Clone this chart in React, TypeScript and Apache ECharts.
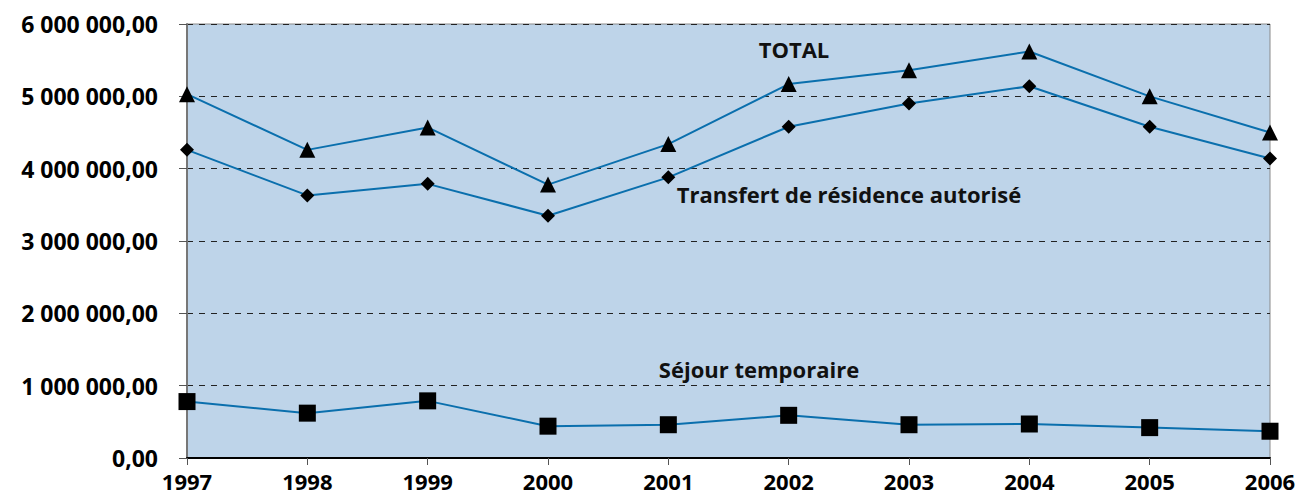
import React, { useEffect, useRef } from "react";
import * as echarts from "echarts";

const years = ["1997", "1998", "1999", "2000", "2001", "2002", "2003", "2004", "2005", "2006"];
const totalValues = [5030000, 4260000, 4570000, 3780000, 4340000, 5170000, 5360000, 5620000, 5000000, 4500000];
const transfertValues = [4260000, 3630000, 3790000, 3350000, 3880000, 4580000, 4900000, 5140000, 4580000, 4140000];
const sejourValues = [780000, 620000, 790000, 440000, 460000, 590000, 460000, 470000, 420000, 370000];
const seriesNames = ["TOTAL", "Transfert de résidence autorisé", "Séjour temporaire"];

const FONT = "'Open Sans', 'DejaVu Sans', sans-serif";
const LINE = "#0a6fad";

function fmt(v: number): string {
  const s = Math.round(v).toString().replace(/\B(?=(\d{3})+(?!\d))/g, " ");
  return s + ",00";
}

export default function App() {
  const ref = useRef<HTMLDivElement>(null);
  useEffect(() => {
    document.body.style.margin = "0";
    const chart = echarts.init(ref.current!, null, { renderer: "svg" });
    const lineStyle = { color: LINE, width: 2 };
    const itemStyle = { color: "#000" };
    const annot = (text: string, x: number, y: number) => ({
      type: "text",
      x,
      y,
      style: { text, fontFamily: FONT, fontWeight: "bold", fontSize: 22, fill: "#111", align: "center", verticalAlign: "middle" },
    });
    chart.setOption({
      animation: false,
      grid: {
        left: 187,
        right: 30,
        top: 24,
        bottom: 39,
        show: true,
        backgroundColor: "#bed4e9",
        borderColor: "#8a8a8a",
        borderWidth: 1,
      },
      xAxis: {
        type: "category",
        data: years,
        boundaryGap: false,
        axisLine: { show: true, lineStyle: { color: "#000", width: 2 } },
        axisTick: { show: true, length: 7, lineStyle: { color: "#555", width: 1 } },
        axisLabel: { fontFamily: FONT, fontWeight: "bold", fontSize: 22, color: "#000", margin: 12 },
        splitLine: { show: false },
      },
      yAxis: {
        type: "value",
        min: 0,
        max: 6000000,
        interval: 1000000,
        axisLine: { show: true, lineStyle: { color: "#777", width: 2 } },
        axisTick: { show: true, length: 8, lineStyle: { color: "#555", width: 1 } },
        axisLabel: {
          fontFamily: FONT,
          fontWeight: "bold",
          fontSize: 23,
          color: "#000",
          margin: 29,
          formatter: (v: number) => fmt(v),
        },
        splitLine: { show: true, lineStyle: { color: "#222", type: [6, 6], width: 1 } },
      },
      series: [
        {
          name: seriesNames[0],
          type: "line",
          data: totalValues,
          symbol: "triangle",
          symbolSize: 16,
          lineStyle,
          itemStyle,
        },
        {
          name: seriesNames[1],
          type: "line",
          data: transfertValues,
          symbol: "diamond",
          symbolSize: 14,
          lineStyle,
          itemStyle,
        },
        {
          name: seriesNames[2],
          type: "line",
          data: sejourValues,
          symbol: "rect",
          symbolSize: 17,
          lineStyle,
          itemStyle,
        },
      ],
      graphic: [
        annot(seriesNames[0], 794, 49),
        annot(seriesNames[1], 849, 194),
        annot(seriesNames[2], 759, 369),
      ],
    });
    return () => chart.dispose();
  }, []);
  return <div ref={ref} style={{ width: 1300, height: 497 }} />;
}
